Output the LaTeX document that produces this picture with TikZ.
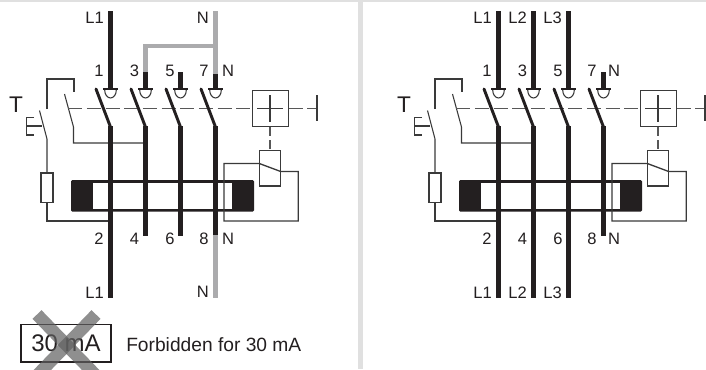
\documentclass[tikz,border=0pt]{standalone}
\usepackage{fontspec}
\setmainfont{Liberation Sans}
\definecolor{ink}{HTML}{231F20}
\definecolor{wire}{HTML}{3A3A3A}
\definecolor{neutral}{HTML}{ABABAD}
\definecolor{panel}{HTML}{E0E0E0}
\definecolor{crossout}{HTML}{5F5F5F}

\begin{document}
\begin{tikzpicture}[x=0.75pt, y=-0.75pt,
        pole/.style={line width=3.4pt, ink},
        blade/.style={line width=2.2pt, ink, line cap=round},
        thinwire/.style={line width=0.8pt, wire},
        link/.style={line width=1pt, wire!85, dash pattern=on 10.5pt off 3.5pt},
        lbl/.style={inner sep=0pt, ink, font=\fontsize{12.4}{14}\selectfont}]

    \useasboundingbox (0,0) rectangle (706,369);
    \clip (0,0) rectangle (706,369);

    % Panel edges
    \fill[panel] (0,0) rectangle (706,1.5);
    \fill[panel] (358,0) rectangle (362.5,369);

    % Same breaker in both panels
    \foreach \dx in {0,388} {
        \begin{scope}[shift={(\dx,0)}]

            % Test button and its contacts
            \draw[thinwire] (47,109) -- (47,79) -- (74,79) -- (74,92);
            \draw[thinwire] (39.5,110.5) -- (47,139) -- (47,173);
            \draw[thinwire] (34,117.5) -- (26.5,117.5) -- (26.5,135) -- (34,135);
            \draw[thinwire] (26.5,126) -- (42,126);
            \draw[thinwire] (64.5,94) -- (73.5,127) -- (73.5,143) -- (145,143);

            % Resistor
            \draw[thinwire, fill=white] (41,173) rectangle (53,202.5);
            \draw[thinwire] (47,202.5) -- (47,221) -- (110,221);

            % Toroid
            \fill[ink, rounded corners=1pt] (71,180) rectangle (254,211.7);
            \fill[white] (93,182.8) rectangle (232,209.3);

            % Mechanical link and trip unit
            \draw[link] (68.3,108.5) -- (252,108.5);
            \draw[link] (288.5,108.5) -- (317,108.5);
            \draw[thinwire] (317,95) -- (317,121);
            \draw[thinwire, line width=1pt] (252.7,90.7) rectangle (288.3,126.3);
            \draw[thinwire] (270,95) -- (270,122);
            \draw[thinwire] (257,108.5) -- (283,108.5);
            \draw[link, dash pattern=on 6.8pt off 3pt] (270,127) -- (270,150);

            % Relay
            \draw[thinwire, line width=1pt] (224,221) -- (224,163.5) -- (259.3,163.5) -- (280.7,171.5) -- (298.3,171.5) -- (298.3,221) -- cycle;
            \draw[thinwire, line width=1pt] (259.3,150.7) rectangle (280.7,186);

            % Poles
            \foreach \px in {110.5,145.5,180.5,215.5} {
                \draw[blade] (\px-14.5,89) -- (\px,127);
                \draw[line width=1.9pt, ink] (\px-7.5,89) -- (\px+7.5,89);
                \draw[thinwire] (\px-5.8,90) arc[start angle=180, end angle=0, x radius=5.8, y radius=8];
                \draw[pole] (\px,126) -- (\px,235.7);
            }

            \node[inner sep=0pt, ink, font=\fontsize{17}{19}\selectfont] (trip\dx) at (16,104.5) {T};

            % Terminal numbers
            \node[lbl] (n1\dx) at (99,71) {1};
            \node[lbl] (n3\dx) at (134.5,71) {3};
            \node[lbl] (n5\dx) at (170,71) {5};
            \node[lbl] (n7\dx) at (204,71) {7};
            \node[lbl] (n2\dx) at (99,239) {2};
            \node[lbl] (n4\dx) at (134.5,239) {4};
            \node[lbl] (n6\dx) at (170,239) {6};
            \node[lbl] (n8\dx) at (204,239) {8};
        \end{scope}
    }

    % Left panel supply
    \draw[pole] (110.5,11) -- (110.5,89);
    \draw[pole] (110.5,235) -- (110.5,297.7);
    \draw[pole] (145.5,72) -- (145.5,89);
    \draw[pole] (180.5,72) -- (180.5,89);
    \draw[pole, neutral] (143.7,46) -- (215.5,46);
    \draw[pole, neutral] (145.5,44.2) -- (145.5,72);
    \draw[pole, neutral] (215.5,11) -- (215.5,74);
    \draw[pole] (215.5,74) -- (215.5,89);
    \draw[pole, neutral] (215.5,235) -- (215.5,297.7);
    \node[lbl, anchor=east] (la) at (104,18) {L1};
    \node[lbl, anchor=east] (lb) at (104,292.5) {L1};
    \node[lbl, anchor=east] (na) at (209,18) {N};
    \node[lbl, anchor=east] (nb) at (209,291.5) {N};
    \node[lbl] (nc) at (228,71) {N};
    \node[lbl] (nd) at (228,239) {N};

    % Right panel supply
    \foreach \px/\pn in {498.5/L1,533.5/L2,568.5/L3} {
        \draw[pole] (\px,11) -- (\px,89);
        \draw[pole] (\px,235) -- (\px,297.7);
        \node[lbl, anchor=east] (top\pn) at (\px-6.5,18) {\pn};
        \node[lbl, anchor=east] (bot\pn) at (\px-6.5,292.5) {\pn};
    }
    \draw[pole] (603.5,72) -- (603.5,89);
    \node[lbl] (ne) at (614,71) {N};
    \node[lbl] (nf) at (614,239) {N};

    % Forbidden note
    \node[draw=ink, line width=1.1pt, minimum width=67.5pt, minimum height=28pt, inner sep=0pt, ink,
        font=\fontsize{18}{20}\selectfont] (rating) at (66,343.3) {30 mA\hspace{2pt}};
    \node[anchor=west, inner sep=0pt, ink, font=\fontsize{14.4}{17}\selectfont] (note) at (126,345) {Forbidden for 30 mA};
    \draw[crossout, opacity=0.7, line width=9.4pt] (37,314.5) -- (96,375.5);
    \draw[crossout, opacity=0.7, line width=9.4pt] (96,314.5) -- (37,375.5);

\end{tikzpicture}
\end{document}
